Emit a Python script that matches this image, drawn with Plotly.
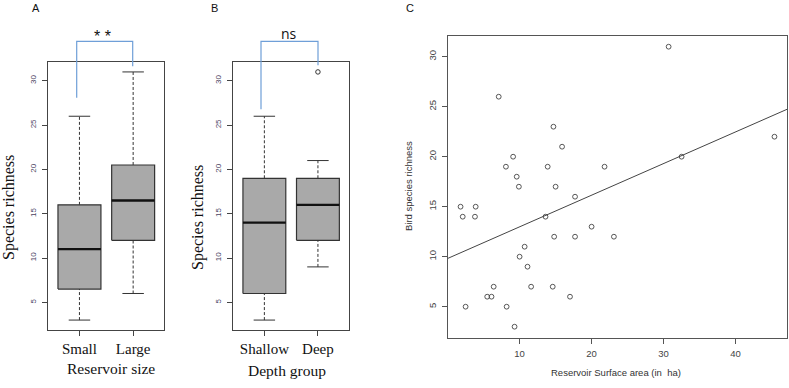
import numpy as np
import plotly.graph_objects as go

W, H = 789, 388

# ---------------- data ----------------
size_groups = ["Small", "Large"]
size_low = [3, 6]
size_q1 = [6.5, 12]
size_med = [11, 16.5]
size_q3 = [16, 20.5]
size_high = [26, 31]

depth_groups = ["Shallow", "Deep"]
depth_low = [3, 9]
depth_q1 = [6, 12]
depth_med = [14, 16]
depth_q3 = [19, 19]
depth_high = [26, 21]
depth_outlier_group = [2]
depth_outlier_value = [31]

area_ha = [7.1, 14.7, 15.9, 9.1, 8.1, 13.9, 21.8, 9.6, 9.9, 15.0, 17.7, 1.8, 3.9, 2.1,
           3.8, 13.6, 20.0, 14.8, 17.7, 10.7, 10.0, 11.1, 6.4, 11.6, 14.6, 5.5, 6.1,
           17.0, 2.5, 8.2, 9.3, 30.7, 45.4, 32.5, 23.1]
richness = [26, 23, 21, 20, 19, 19, 19, 18, 17, 17, 16, 15, 15, 14,
            14, 14, 13, 12, 12, 11, 10, 9, 7, 7, 7, 6, 6,
            6, 5, 5, 3, 31, 22, 20, 12]

# ---------------- helpers ----------------
def px(x):
    return x / W

def py(y):
    return 1 - y / H

fig = go.Figure()

BOX_FILL = "#a9a9a9"
EDGE = "#333333"
HALF = 0.4
CAP = 0.2


def add_boxes(xa, ya, low, q1, med, q3, high):
    for i in range(len(low)):
        c = i + 1
        fig.add_trace(go.Scatter(x=[c, c, None, c, c], y=[low[i], q1[i], None, q3[i], high[i]],
                                 mode="lines", line=dict(color=EDGE, width=1, dash="3px,2px"),
                                 xaxis=xa, yaxis=ya, hoverinfo="skip", showlegend=False))
        fig.add_trace(go.Scatter(x=[c - CAP, c + CAP, None, c - CAP, c + CAP],
                                 y=[low[i], low[i], None, high[i], high[i]],
                                 mode="lines", line=dict(color=EDGE, width=1),
                                 xaxis=xa, yaxis=ya, hoverinfo="skip", showlegend=False))
        fig.add_trace(go.Scatter(x=[c - HALF, c + HALF, c + HALF, c - HALF, c - HALF],
                                 y=[q1[i], q1[i], q3[i], q3[i], q1[i]],
                                 mode="lines", fill="toself", fillcolor=BOX_FILL,
                                 line=dict(color=EDGE, width=1.2),
                                 xaxis=xa, yaxis=ya, hoverinfo="skip", showlegend=False))
        fig.add_trace(go.Scatter(x=[c - HALF, c + HALF], y=[med[i], med[i]],
                                 mode="lines", line=dict(color="#111111", width=2.4),
                                 xaxis=xa, yaxis=ya, hoverinfo="skip", showlegend=False))


add_boxes("x", "y", size_low, size_q1, size_med, size_q3, size_high)
add_boxes("x2", "y2", depth_low, depth_q1, depth_med, depth_q3, depth_high)
fig.add_trace(go.Scatter(x=depth_outlier_group, y=depth_outlier_value, mode="markers",
                         marker=dict(symbol="circle-open", size=4.5, color=EDGE, line=dict(width=1)),
                         xaxis="x2", yaxis="y2", hoverinfo="skip", showlegend=False))

# panel C
fig.add_trace(go.Scatter(x=area_ha, y=richness, mode="markers",
                         marker=dict(symbol="circle-open", size=4.8, color="#444444",
                                     line=dict(width=0.9)),
                         xaxis="x3", yaxis="y3", showlegend=False))
slope, intercept = np.polyfit(area_ha, richness, 1)
xr = [0.056, 47.14]
fig.add_trace(go.Scatter(x=xr, y=[intercept + slope * v for v in xr], mode="lines",
                         line=dict(color="#444444", width=1),
                         xaxis="x3", yaxis="y3", hoverinfo="skip", showlegend=False))

# ---------------- axes ----------------
serif = "Liberation Serif"
sans = "Liberation Sans"
tick_col = "#4b3f5f"

box_y_common = dict(range=[1.88, 32.12], tickvals=[5, 10, 15, 20, 25, 30], tickangle=-90,
                    ticks="outside", ticklen=5, tickcolor="#444", showline=True, linecolor="#444",
                    linewidth=1, mirror=True, showgrid=False, zeroline=False,
                    ticklabelstandoff=3,
                    tickfont=dict(family=sans, size=8, color=tick_col))
box_x_common = dict(range=[0.42, 2.58], tickvals=[1, 2], ticks="outside", ticklen=5,
                    tickcolor="#444", showline=True, linecolor="#444", linewidth=1, mirror=True,
                    showgrid=False, zeroline=False,
                    tickfont=dict(family=serif, size=15, color="#111"))

yd_box = [py(330), py(62)]
fig.update_layout(
    xaxis=dict(domain=[px(48.3), px(164.3)], anchor="y", ticktext=size_groups, **box_x_common),
    yaxis=dict(domain=yd_box, anchor="x", **box_y_common),
    xaxis2=dict(domain=[px(233.3), px(349)], anchor="y2", ticktext=depth_groups, **box_x_common),
    yaxis2=dict(domain=yd_box, anchor="x2", **box_y_common),
    xaxis3=dict(domain=[px(448), px(787)], anchor="y3", range=[0.056, 47.14],
                tickvals=[10, 20, 30, 40], ticks="outside", ticklen=5, tickcolor="#555",
                showline=True, linecolor="#555", linewidth=1, mirror=True, showgrid=False,
                zeroline=False, ticklabelstandoff=2,
                tickfont=dict(family=sans, size=9.5, color="#444")),
    yaxis3=dict(domain=[py(337.9), py(35.5)], anchor="x3", range=[1.88, 32.12],
                tickvals=[5, 10, 15, 20, 25, 30], tickangle=-90, ticks="outside", ticklen=5,
                tickcolor="#555", showline=True, linecolor="#555", linewidth=1, mirror=True,
                showgrid=False, zeroline=False, ticklabelstandoff=2,
                tickfont=dict(family=sans, size=9.5, color="#444")),
    width=W, height=H, margin=dict(l=0, r=0, t=0, b=0),
    paper_bgcolor="white", plot_bgcolor="white", showlegend=False,
)

# ---------------- brackets ----------------
BR = "#6f9fd8"
for (x1, y1, x2, y2, ytop) in [(76.7, 97.7, 132.7, 66.3, 41.3), (261, 109.3, 318, 65.3, 41.3)]:
    fig.add_shape(type="path", xref="paper", yref="paper",
                  path=f"M {px(x1)} {py(y1)} L {px(x1)} {py(ytop)} L {px(x2)} {py(ytop)} L {px(x2)} {py(y2)}",
                  line=dict(color=BR, width=1.2))

# ---------------- annotations ----------------
def ann(text, x, y, size, family, color="#111", angle=0):
    fig.add_annotation(text=text, x=px(x), y=py(y), xref="paper", yref="paper",
                       xanchor="center", yanchor="middle", showarrow=False, textangle=angle,
                       font=dict(family=family, size=size, color=color))

ann("A", 36, 8, 11, sans)
ann("B", 214, 8, 11, sans)
ann("C", 410, 8, 11, sans)
ann("* *", 102, 36, 16, sans)
ann("ns", 289, 33, 14, "Open Sans")
ann("Species richness", 9, 208, 16, serif, angle=-90)
ann("Species richness", 198, 217, 16, serif, angle=-90)
ann("Reservoir size", 110.8, 368.3, 15.5, serif)
ann("Depth group", 286.7, 370, 15.5, serif)
ann("Bird species richness", 408, 186, 9.5, sans, color="#333", angle=-90)
ann("Reservoir Surface area (in  ha)", 615.7, 372, 9.5, sans, color="#333")

fig.write_html("out.html", config={"displayModeBar": False},
               post_script="document.body.style.margin='0';document.body.style.padding='0';"
                           "document.documentElement.style.overflow='hidden';")
